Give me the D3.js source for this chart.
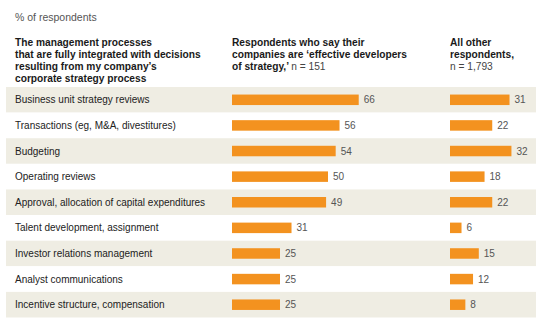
<!DOCTYPE html>
<html><head><meta charset="utf-8">
<script src="https://cdn.jsdelivr.net/npm/d3@7"></script>
<style>body{margin:0;background:#fff}svg{display:block;font-family:"Liberation Sans",Arial,Helvetica,sans-serif}</style>
</head><body><svg width="545" height="336"></svg>
<script>
const categories = ["Business unit strategy reviews","Transactions (eg, M&A, divestitures)","Budgeting","Operating reviews","Approval, allocation of capital expenditures","Talent development, assignment","Investor relations management","Analyst communications","Incentive structure, compensation"];
const effective = [66,56,54,50,49,31,25,25,25];
const others = [31,22,32,18,22,6,15,12,8];
const unitLabel = "% of respondents";
const header1 = ["The management processes","that are fully integrated with decisions","resulting from my company’s","corporate strategy process"];

const svg = d3.select("svg");
const y = d3.scaleBand().domain(categories).range([87,317.5]).padding(0);
const x = d3.scaleLinear().domain([0,100]).range([0,192]);
const col1 = 232, col2 = 450;
const orange = "#f3921f", band = "#efede3";

svg.append("text").attr("x",15).attr("y",21).attr("font-size",10.5).attr("fill","#555").text(unitLabel);

const lh = 11.9, y0 = 45.8;
const hdr = svg.append("g").attr("font-size",10.2).attr("font-weight","bold").attr("fill","#1a1a1a");
header1.forEach((t,i)=>hdr.append("text").attr("x",15).attr("y",y0+i*lh).text(t));
hdr.append("text").attr("x",col1).attr("y",y0).text("Respondents who say their");
hdr.append("text").attr("x",col1).attr("y",y0+lh).text("companies are ‘effective developers");
const t3 = hdr.append("text").attr("x",col1).attr("y",y0+2*lh);
t3.append("tspan").text("of strategy,’ ");
t3.append("tspan").attr("font-weight","normal").attr("fill","#444").text("n = 151");
hdr.append("text").attr("x",col2).attr("y",y0).text("All other");
hdr.append("text").attr("x",col2).attr("y",y0+lh).text("respondents,");
hdr.append("text").attr("x",col2).attr("y",y0+2*lh).attr("font-weight","normal").attr("fill","#444").text("n = 1,793");

const rows = svg.append("g").selectAll("g").data(categories).join("g")
  .attr("transform",d=>`translate(0,${y(d)})`);
rows.append("rect").attr("x",6).attr("width",530).attr("height",y.bandwidth())
  .attr("fill",(d,i)=>i%2===0?band:"#fff");
rows.append("text").attr("x",15).attr("y",y.bandwidth()/2+3.6).attr("font-size",10).attr("fill","#222").text(d=>d);

const bh = 10.5;
rows.append("rect").attr("x",col1).attr("y",y.bandwidth()/2-bh/2).attr("height",bh)
  .attr("width",(d,i)=>x(effective[i])).attr("fill",orange);
rows.append("text").attr("x",(d,i)=>col1+x(effective[i])+5).attr("y",y.bandwidth()/2+3.6)
  .attr("font-size",10).attr("fill","#555").text((d,i)=>effective[i]);
rows.append("rect").attr("x",col2).attr("y",y.bandwidth()/2-bh/2).attr("height",bh)
  .attr("width",(d,i)=>x(others[i])).attr("fill",orange);
rows.append("text").attr("x",(d,i)=>col2+x(others[i])+5).attr("y",y.bandwidth()/2+3.6)
  .attr("font-size",10).attr("fill","#555").text((d,i)=>others[i]);
</script></body></html>
